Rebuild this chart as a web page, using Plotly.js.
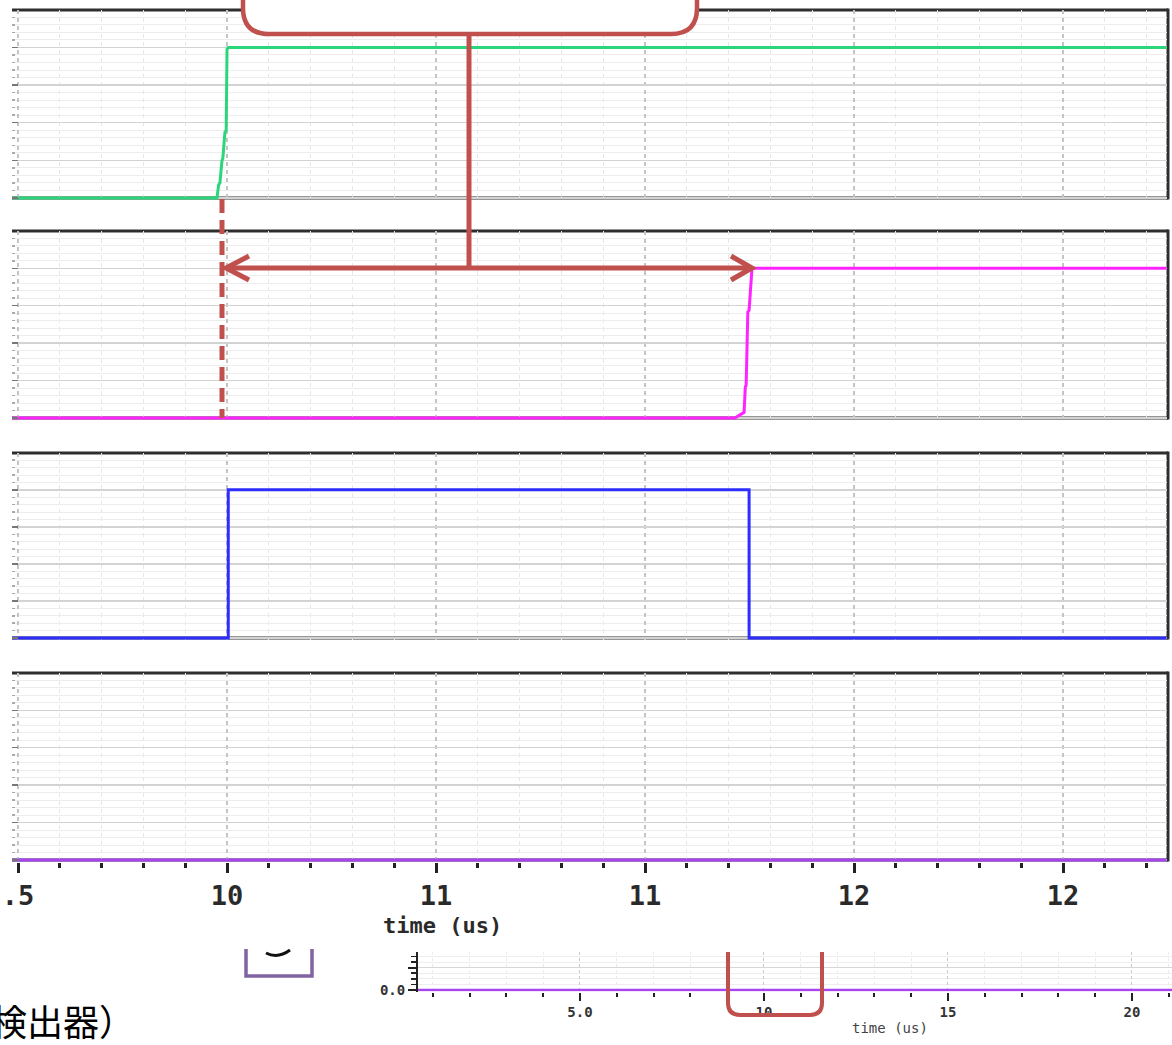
<!DOCTYPE html>
<html><head><meta charset="utf-8">
<script src="https://cdn.plot.ly/plotly-3.0.1.min.js"></script>
<style>html,body{margin:0;padding:0;background:#fff;overflow:hidden}#chart{width:1172px;height:1045px}</style>
</head><body><div id="chart"></div>
<script>
// ---------------- data ----------------
const greenT   = [9.4856, 9.976, 9.980, 9.983, 9.988, 9.990, 9.995, 9.998, 10.000, 10.003, 12.2512];
const greenV   = [0, 0, 0.35, 0.40, 1.00, 1.05, 1.75, 1.80, 3.95, 4, 4];
const magentaT = [9.4856, 11.215, 11.234, 11.237, 11.240, 11.242, 11.246, 11.249, 11.256, 12.2512];
const magentaV = [0, 0, 0.13, 0.15, 0.83, 0.88, 2.83, 2.88, 4, 4];
const blueT    = [9.4856, 10.003, 10.003, 11.249, 11.249, 12.2512];
const blueV    = [0, 0, 4, 4, 0, 0];
const purpleT  = [9.4856, 12.2512];
const purpleV  = [0, 0];
const insetT   = [0.6, 21.09];
const insetV   = [0, 0];

const mainTickVals  = [9.5, 10, 10.5, 11, 11.5, 12];
const mainTickText  = [".5", "10", "11", "11", "12", "12"];
const insetTickVals = [5, 10, 15, 20];
const insetTickText = ["5.0", "10", "15", "20"];
const insetYTickVals = [0, 1];
const insetYTickText = ["0.0", ""];
const xTitle   = "time (us)";
const noteText = "検出器）";

// ---------------- layout helpers ----------------
const W = 1172, H = 1045;
const fx = p => p / W;
const fy = p => 1 - p / H;
const RED = '#c0504d';
const MONO = 'DejaVu Sans Mono, monospace';

const panels = [
  {T: 10,  B: 198, color: '#2bd67b', t: greenT,   v: greenV},
  {T: 231, B: 418, color: '#ff24ff', t: magentaT, v: magentaV},
  {T: 453, B: 638, color: '#2d2dff', t: blueT,    v: blueV},
  {T: 673, B: 860, color: '#a845f0', t: purpleT,  v: purpleV}
];
const XL = 12, XR = 1168;

const data = [];
const layout = {
  width: W, height: H,
  margin: {l: 0, r: 0, t: 0, b: 0, pad: 0},
  paper_bgcolor: '#fff', plot_bgcolor: '#fff',
  showlegend: false,
  shapes: [], annotations: []
};

panels.forEach((p, i) => {
  const n = i + 1;
  const u = (p.B - p.T) / 5;
  const last = (n === 4);
  data.push({
    x: p.t, y: p.v, type: 'scatter', mode: 'lines',
    line: {color: p.color, width: 3},
    xaxis: 'x' + (n === 1 ? '' : n), yaxis: 'y' + (n === 1 ? '' : n),
    hoverinfo: 'skip'
  });
  layout['xaxis' + (n === 1 ? '' : n)] = {
    domain: [fx(XL), fx(XR - 1.5)],
    range: [9.4856, 9.5 + (XR - 1.5 - 18) / 418],
    anchor: 'y' + (n === 1 ? '' : n),
    tickmode: 'array', tickvals: mainTickVals, ticktext: mainTickText,
    showticklabels: last,
    ticks: last ? 'outside' : '', ticklen: 10, tickwidth: 3, tickcolor: '#222',
    tickfont: {family: MONO, size: 27, color: '#2a2a2a', weight: 'bold'},
    showgrid: true, gridcolor: '#c4c4c4', gridwidth: 1.2, griddash: '4px,4px',
    minor: {tickmode: 'linear', tick0: 9.5, dtick: 0.1,
            ticks: last ? 'outside' : '', ticklen: 5, tickwidth: 3, tickcolor: '#222',
            showgrid: true, gridcolor: '#e6e6e6', gridwidth: 1},
    showline: false, zeroline: false, fixedrange: true
  };
  layout['yaxis' + (n === 1 ? '' : n)] = {
    domain: [fy(p.B + 2), fy(p.T)],
    range: [-2 / u, 4.995],
    anchor: 'x' + (n === 1 ? '' : n),
    tickmode: 'linear', tick0: 0, dtick: 1,
    showticklabels: false,
    ticks: 'inside', ticklen: 6, tickwidth: 1.5, tickcolor: '#777',
    showgrid: true, gridcolor: '#d3d3d3', gridwidth: 1.5,
    minor: {tickmode: 'linear', tick0: 0, dtick: 0.2, ticks: 'inside', ticklen: 3,
            tickcolor: '#aaa', showgrid: true, gridcolor: '#ededed', gridwidth: 1},
    showline: false, zeroline: false, fixedrange: true
  };
  const fr = {type: 'line', xref: 'paper', yref: 'paper', layer: 'below',
              line: {color: '#2e2e2e', width: 3}};
  layout.shapes.push(Object.assign({}, fr, {x0: fx(XL), x1: fx(XR), y0: fy(p.T), y1: fy(p.T)}));
  layout.shapes.push(Object.assign({}, fr, {x0: fx(XL), x1: fx(XR), y0: fy(p.B), y1: fy(p.B)}));
  layout.shapes.push(Object.assign({}, fr, {x0: fx(XR), x1: fx(XR), y0: fy(p.T - 1.5), y1: fy(p.B + 1.5)}));
});

// ---------------- inset (lower overview plot) ----------------
data.push({x: insetT, y: insetV, type: 'scatter', mode: 'lines',
           line: {color: '#a845f0', width: 2.5}, xaxis: 'x5', yaxis: 'y5', hoverinfo: 'skip'});
layout.xaxis5 = {
  domain: [fx(418), 1], range: [0.6, 0.6 + (W - 418) / 36.8], anchor: 'y5',
  tickmode: 'array', tickvals: insetTickVals, ticktext: insetTickText,
  ticks: 'outside', ticklen: 8, tickwidth: 2, tickcolor: '#222',
  tickfont: {family: MONO, size: 14, color: '#333', weight: 'bold'},
  showgrid: true, gridcolor: '#c8c8c8', griddash: '3px,3px', gridwidth: 1,
  minor: {tickmode: 'linear', tick0: 0, dtick: 1, ticks: 'outside', ticklen: 4,
          tickwidth: 2, tickcolor: '#222', showgrid: true, gridcolor: '#ebebeb'},
  showline: false, zeroline: false, fixedrange: true
};
layout.yaxis5 = {
  domain: [fy(991.5), fy(952)], range: [-1.5 / 22.35, 1.7], anchor: 'x5',
  tickmode: 'array', tickvals: insetYTickVals, ticktext: insetYTickText,
  ticks: 'outside', ticklen: 8, tickwidth: 2, tickcolor: '#222',
  tickfont: {family: MONO, size: 14, color: '#333', weight: 'bold'},
  showgrid: true, gridcolor: '#d6d6d6',
  minor: {tickmode: 'linear', tick0: 0, dtick: 0.25, ticks: 'outside', ticklen: 5,
          tickwidth: 1.5, tickcolor: '#222', showgrid: true, gridcolor: '#eeeeee'},
  showline: true, linecolor: '#222', linewidth: 2, zeroline: false, fixedrange: true
};

// ---------------- callouts ----------------
function P(pts) {
  return pts.map(s => {
    const c = s[0], a = s.slice(1);
    const out = [];
    for (let k = 0; k < a.length; k += 2) out.push(fx(a[k]).toFixed(5) + ',' + fy(a[k + 1]).toFixed(5));
    return c + (out.length ? ' ' + out.join(' ') : '');
  }).join(' ');
}
const above = {xref: 'paper', yref: 'paper', layer: 'above'};
layout.shapes.push(Object.assign({}, above, {type: 'path',
  path: P([['M', 243, -20], ['L', 243, 8], ['Q', 243, 34, 269, 34], ['L', 671, 34],
           ['Q', 697, 34, 697, 8], ['L', 697, -20], ['Z']]),
  fillcolor: '#fff', line: {color: RED, width: 4.5}}));
layout.shapes.push(Object.assign({}, above, {type: 'line', x0: fx(469), x1: fx(469), y0: fy(36), y1: fy(268),
  line: {color: RED, width: 5}}));
layout.shapes.push(Object.assign({}, above, {type: 'line', x0: fx(228), x1: fx(750), y0: fy(268), y1: fy(268),
  line: {color: RED, width: 5}}));
layout.shapes.push(Object.assign({}, above, {type: 'path',
  path: P([['M', 249, 256], ['L', 226, 268], ['L', 249, 280]]), line: {color: RED, width: 5}}));
layout.shapes.push(Object.assign({}, above, {type: 'path',
  path: P([['M', 731, 256], ['L', 752, 268], ['L', 731, 280]]), line: {color: RED, width: 5}}));
layout.shapes.push(Object.assign({}, above, {type: 'line', x0: fx(222), x1: fx(222), y0: fy(199), y1: fy(418),
  line: {color: RED, width: 5, dash: '14px,7px'}}));
layout.shapes.push(Object.assign({}, above, {type: 'path',
  path: P([['M', 246, 949], ['L', 246, 976], ['L', 312, 976], ['L', 312, 949]]),
  line: {color: '#8064a2', width: 3.5}}));
layout.shapes.push(Object.assign({}, above, {type: 'path',
  path: P([['M', 266, 953], ['Q', 278, 959, 290, 950]]), line: {color: '#111', width: 3}}));
layout.shapes.push(Object.assign({}, above, {type: 'path',
  path: P([['M', 728, 952], ['L', 728, 1003], ['Q', 728, 1015, 740, 1015], ['L', 810, 1015],
           ['Q', 822, 1015, 822, 1003], ['L', 822, 952]]),
  line: {color: RED, width: 4}}));

layout.annotations.push({xref: 'paper', yref: 'paper', x: fx(442), y: fy(925), xanchor: 'center', yanchor: 'middle',
  text: xTitle, showarrow: false, font: {family: MONO, size: 22, color: '#2a2a2a', weight: 'bold'}});
layout.annotations.push({xref: 'paper', yref: 'paper', x: fx(890), y: fy(1028), xanchor: 'center', yanchor: 'middle',
  text: xTitle, showarrow: false, font: {family: MONO, size: 14, color: '#444'}});
layout.annotations.push({xref: 'paper', yref: 'paper', x: fx(137), y: fy(1020), xanchor: 'right', yanchor: 'middle',
  text: noteText, showarrow: false, font: {family: 'Noto Sans CJK JP', size: 36, color: '#000'}});

Plotly.newPlot('chart', data, layout, {displayModeBar: false, staticPlot: true});
</script>
</body></html>
